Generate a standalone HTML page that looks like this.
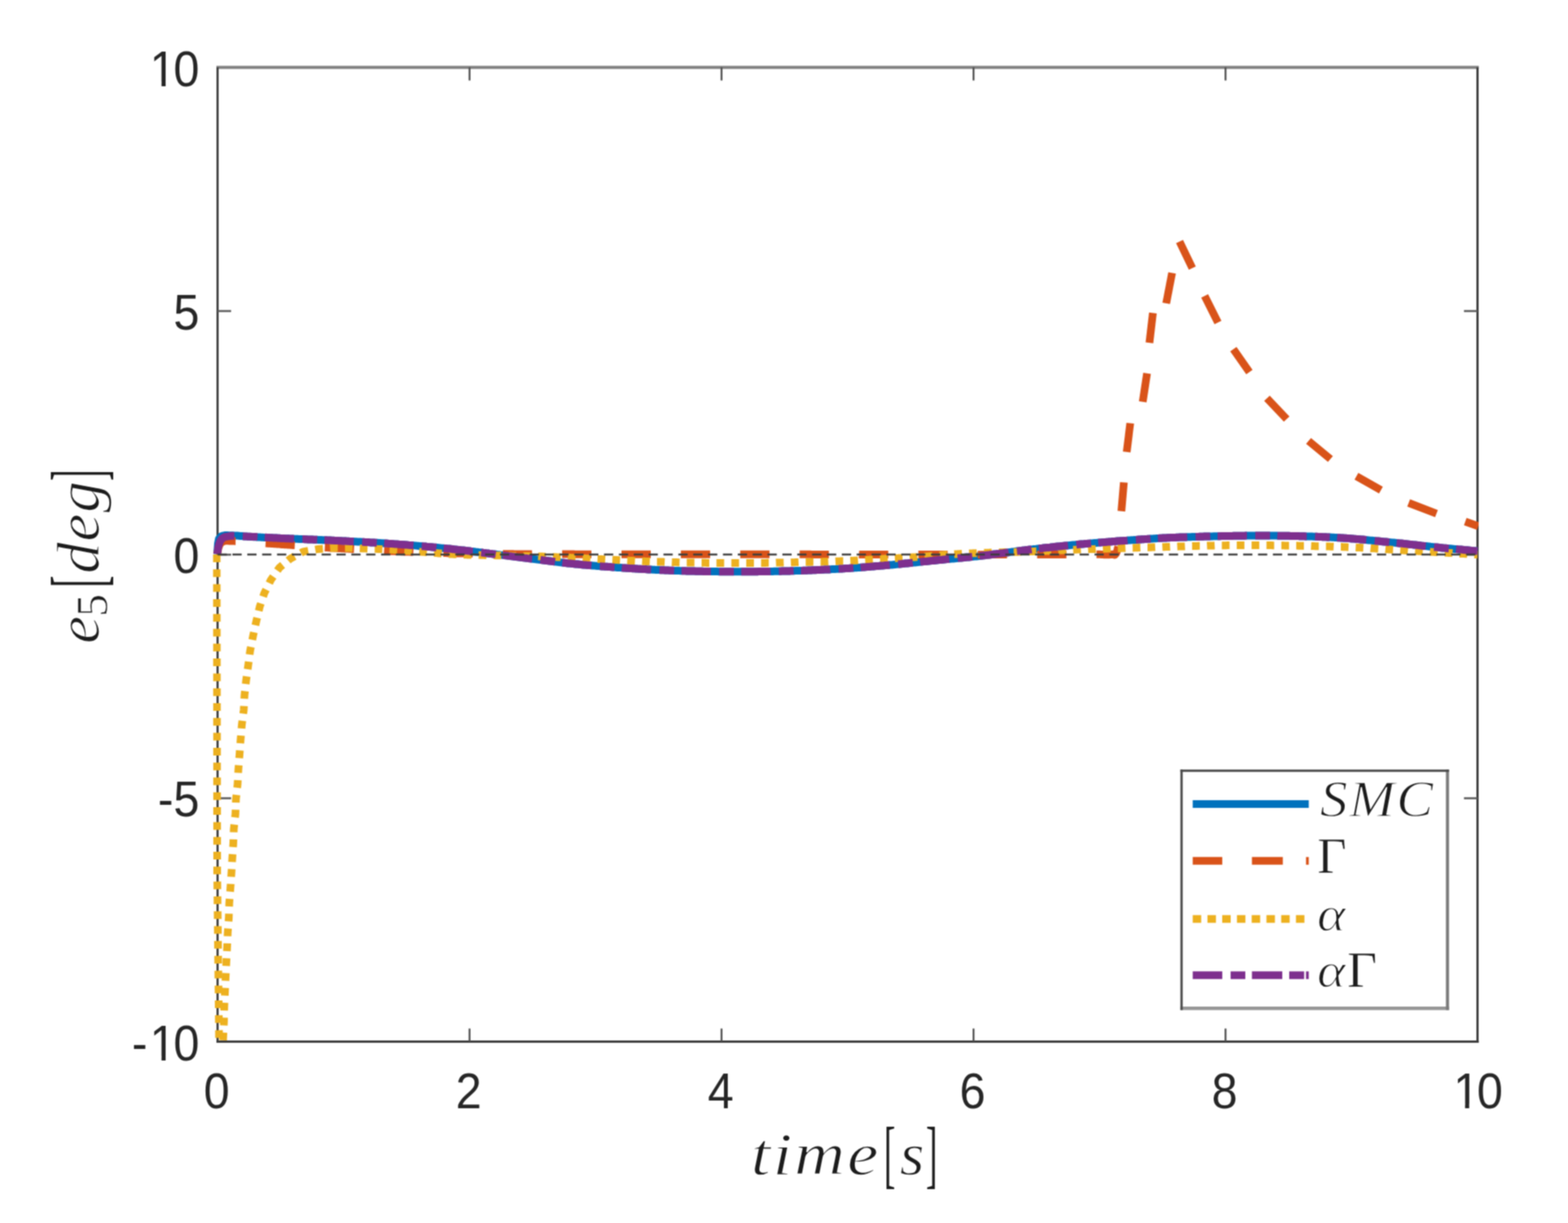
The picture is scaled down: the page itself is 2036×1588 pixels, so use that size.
<!DOCTYPE html>
<html lang="en"><head><meta charset="utf-8"><title>e5 tracking error</title>
<style>html,body{margin:0;padding:0;background:#fff}body{width:2036px;height:1588px;overflow:hidden}svg{display:block}.tk{font-family:"Liberation Sans",Arial,Helvetica,sans-serif;font-size:60.5px;fill:#262626}.mi{font-family:"Liberation Serif","Times New Roman",serif;font-style:italic;fill:#1a1a1a}.mr{font-family:"Liberation Serif","Times New Roman",serif;font-style:normal;fill:#1a1a1a}</style></head><body>
<svg width="2036" height="1588" viewBox="0 0 2036 1588" role="img" aria-label="Tracking error e5 in degrees versus time in seconds for SMC, Gamma, alpha and alpha-Gamma controllers">
<rect width="2036" height="1588" fill="#fff"/>
<defs><filter id="soft" x="0" y="0" width="100%" height="100%" filterUnits="userSpaceOnUse" color-interpolation-filters="sRGB"><feConvolveMatrix order="3" kernelMatrix="1 2 1 2 4 2 1 2 1" divisor="16" edgeMode="duplicate" preserveAlpha="true"/></filter></defs>
<g filter="url(#soft)">
<rect width="2036" height="1588" fill="#fff"/>
<defs><clipPath id="ax"><rect x="276.5" y="87.5" width="1643.5" height="1264.0"/></clipPath></defs>
<g fill="none" stroke-linecap="butt">
<line x1="281.0" y1="87.5" x2="1920.2" y2="87.5" stroke="#808080" stroke-width="4.2"/>
<line x1="281.0" y1="1352.5" x2="1920.2" y2="1352.5" stroke="#3c3c3c" stroke-width="3"/>
<line x1="282.5" y1="87.5" x2="282.5" y2="1352.5" stroke="#3c3c3c" stroke-width="2.8"/>
<line x1="1918.5" y1="87.5" x2="1918.5" y2="1352.5" stroke="#3c3c3c" stroke-width="2.9"/>
<line x1="609.7" y1="87.5" x2="609.7" y2="104.5" stroke="#4d4d4d" stroke-width="2.4"/>
<line x1="609.7" y1="1352.5" x2="609.7" y2="1335.5" stroke="#4d4d4d" stroke-width="2.4"/>
<line x1="936.9" y1="87.5" x2="936.9" y2="104.5" stroke="#4d4d4d" stroke-width="2.4"/>
<line x1="936.9" y1="1352.5" x2="936.9" y2="1335.5" stroke="#4d4d4d" stroke-width="2.4"/>
<line x1="1264.1" y1="87.5" x2="1264.1" y2="104.5" stroke="#4d4d4d" stroke-width="2.4"/>
<line x1="1264.1" y1="1352.5" x2="1264.1" y2="1335.5" stroke="#4d4d4d" stroke-width="2.4"/>
<line x1="1591.3" y1="87.5" x2="1591.3" y2="104.5" stroke="#4d4d4d" stroke-width="2.4"/>
<line x1="1591.3" y1="1352.5" x2="1591.3" y2="1335.5" stroke="#4d4d4d" stroke-width="2.4"/>
<line x1="282.5" y1="403.9" x2="300.1" y2="403.9" stroke="#5c5c5c" stroke-width="2.6"/>
<line x1="1918.5" y1="403.9" x2="1900.9" y2="403.9" stroke="#5c5c5c" stroke-width="2.6"/>
<line x1="282.5" y1="720.2" x2="300.1" y2="720.2" stroke="#5c5c5c" stroke-width="2.6"/>
<line x1="1918.5" y1="720.2" x2="1900.9" y2="720.2" stroke="#5c5c5c" stroke-width="2.6"/>
<line x1="282.5" y1="1036.5" x2="300.1" y2="1036.5" stroke="#5c5c5c" stroke-width="2.6"/>
<line x1="1918.5" y1="1036.5" x2="1900.9" y2="1036.5" stroke="#5c5c5c" stroke-width="2.6"/>
</g>
<text class="tk" transform="translate(194.51,111.5) scale(1,1.065)"><tspan letter-spacing="-3">1</tspan>0</text><rect x="197.61" y="106.49" width="12.11" height="6.51" fill="#fff"/><rect x="215.07" y="106.49" width="11.63" height="6.51" fill="#fff"/>
<text class="tk" transform="translate(225.15,427.8) scale(1,1.065)">5</text>
<text class="tk" transform="translate(225.15,744.0) scale(1,1.065)">0</text>
<text class="tk" transform="translate(205.01,1060.2) scale(1,1.065)">-5</text>
<text class="tk" transform="translate(171.36,1376.5) scale(1,1.065)"><tspan letter-spacing="3">-</tspan><tspan letter-spacing="-3">1</tspan>0</text><rect x="197.61" y="1371.49" width="12.11" height="6.51" fill="#fff"/><rect x="215.07" y="1371.49" width="11.63" height="6.51" fill="#fff"/>
<text class="tk" transform="translate(264.48,1438.6) scale(1,1.065)">0</text>
<text class="tk" transform="translate(591.68,1438.6) scale(1,1.065)">2</text>
<text class="tk" transform="translate(918.88,1438.6) scale(1,1.065)">4</text>
<text class="tk" transform="translate(1246.08,1438.6) scale(1,1.065)">6</text>
<text class="tk" transform="translate(1573.28,1438.6) scale(1,1.065)">8</text>
<text class="tk" transform="translate(1887.15,1438.6) scale(1,1.065)"><tspan letter-spacing="-3">1</tspan>0</text><rect x="1890.26" y="1433.59" width="12.11" height="6.51" fill="#fff"/><rect x="1907.71" y="1433.59" width="11.63" height="6.51" fill="#fff"/>
<g fill="none" stroke-width="10.0" stroke-linecap="butt" stroke-linejoin="round" clip-path="url(#ax)">
<path stroke="#0072BD" d="M282.0,719.5 L283.0,706.0 L284.2,699.6 L285.5,698.5 L287.0,696.4 L288.5,695.8 L290.0,695.5 L292.0,695.0 L294.0,694.9 L296.0,695.1 L298.0,695.2 L300.0,695.2 L302.0,695.3 L304.0,695.4 L306.0,695.5 L308.0,695.6 L310.0,695.8 L312.0,696.0 L314.0,696.1 L316.0,696.3 L318.0,696.5 L320.0,696.6 L321.9,696.7 L323.9,696.8 L325.8,696.9 L327.8,697.0 L329.7,697.2 L331.7,697.3 L333.6,697.4 L335.6,697.5 L337.5,697.6 L339.5,697.7 L341.4,697.8 L343.3,697.9 L345.3,698.0 L347.2,698.0 L349.2,698.1 L351.1,698.2 L353.1,698.3 L355.0,698.4 L357.0,698.5 L358.9,698.6 L360.9,698.7 L362.8,698.8 L364.8,698.9 L366.7,699.0 L368.7,699.1 L370.6,699.2 L372.6,699.2 L374.5,699.3 L376.5,699.4 L378.4,699.5 L380.4,699.6 L382.3,699.7 L384.3,699.7 L386.2,699.8 L388.2,699.9 L390.1,700.0 L392.1,700.1 L394.0,700.1 L396.0,700.2 L397.9,700.3 L399.9,700.4 L401.8,700.5 L403.8,700.5 L405.7,700.6 L407.7,700.7 L409.6,700.8 L411.6,700.8 L413.5,700.9 L415.5,701.0 L417.4,701.1 L419.4,701.2 L421.3,701.3 L423.3,701.3 L425.2,701.4 L427.2,701.5 L429.1,701.6 L431.1,701.7 L433.0,701.8 L435.0,701.9 L437.0,702.0 L438.9,702.1 L440.9,702.2 L442.8,702.3 L444.8,702.4 L446.7,702.5 L448.7,702.6 L450.6,702.7 L452.6,702.8 L454.5,702.9 L456.5,703.0 L458.4,703.1 L460.4,703.2 L462.3,703.3 L464.3,703.4 L466.2,703.5 L468.2,703.6 L470.1,703.7 L472.1,703.8 L474.0,703.9 L476.0,704.0 L477.9,704.1 L479.9,704.3 L481.8,704.4 L483.8,704.5 L485.7,704.6 L487.7,704.7 L489.6,704.8 L491.6,705.0 L493.5,705.1 L495.5,705.2 L497.4,705.3 L499.4,705.5 L501.3,705.6 L503.3,705.7 L505.2,705.9 L507.2,706.0 L509.2,706.1 L511.1,706.3 L513.1,706.4 L515.0,706.6 L517.0,706.7 L518.9,706.9 L520.9,707.0 L522.8,707.2 L524.8,707.3 L526.7,707.5 L528.7,707.6 L530.6,707.8 L532.6,707.9 L534.5,708.1 L536.5,708.2 L538.4,708.4 L540.4,708.6 L542.3,708.7 L544.3,708.9 L546.2,709.1 L548.2,709.2 L550.1,709.4 L552.1,709.6 L554.0,709.8 L556.0,709.9 L557.9,710.1 L559.9,710.3 L561.8,710.5 L563.8,710.7 L565.7,710.8 L567.7,711.0 L569.6,711.2 L571.6,711.4 L573.5,711.6 L575.5,711.8 L577.4,712.0 L579.4,712.2 L581.4,712.4 L583.4,712.6 L585.4,712.8 L587.4,713.0 L589.4,713.3 L591.4,713.5 L593.4,713.7 L595.4,713.9 L597.4,714.1 L599.4,714.4 L601.4,714.6 L603.4,714.8 L605.4,715.1 L607.4,715.3 L609.4,715.5 L611.3,715.8 L613.3,716.0 L615.3,716.2 L617.3,716.5 L619.3,716.7 L621.3,717.0 L623.3,717.2 L625.3,717.4 L627.3,717.7 L629.3,717.9 L631.3,718.2 L633.3,718.4 L635.3,718.7 L637.3,718.9 L639.3,719.2 L641.3,719.4 L643.2,719.6 L645.2,719.9 L647.1,720.1 L649.1,720.4 L651.0,720.6 L653.0,720.9 L654.9,721.1 L656.9,721.4 L658.8,721.6 L660.8,721.9 L662.7,722.1 L664.7,722.4 L666.6,722.6 L668.6,722.9 L670.5,723.1 L672.5,723.4 L674.4,723.6 L676.4,723.9 L678.3,724.1 L680.3,724.4 L682.2,724.6 L684.2,724.9 L686.1,725.1 L688.1,725.4 L690.0,725.6 L692.0,725.8 L694.0,726.1 L696.0,726.3 L698.0,726.6 L700.0,726.8 L702.0,727.1 L704.0,727.3 L706.0,727.6 L708.0,727.8 L710.0,728.1 L712.0,728.3 L714.0,728.6 L716.0,728.8 L717.9,729.1 L719.9,729.3 L721.9,729.6 L723.9,729.8 L725.9,730.0 L727.9,730.3 L729.9,730.5 L731.9,730.7 L733.9,730.9 L735.9,731.2 L737.9,731.4 L739.9,731.6 L741.9,731.8 L743.9,732.0 L745.9,732.2 L747.9,732.4 L749.9,732.6 L751.9,732.8 L753.9,733.0 L755.9,733.2 L757.9,733.4 L759.9,733.5 L761.9,733.7 L763.9,733.9 L765.9,734.1 L767.9,734.2 L769.9,734.4 L771.9,734.6 L773.8,734.7 L775.8,734.9 L777.8,735.1 L779.8,735.2 L781.8,735.4 L783.8,735.5 L785.8,735.7 L787.8,735.8 L789.8,736.0 L791.8,736.1 L793.8,736.3 L795.8,736.4 L797.8,736.6 L799.8,736.7 L801.8,736.9 L803.8,737.0 L805.8,737.1 L807.8,737.3 L809.8,737.4 L811.8,737.5 L813.8,737.7 L815.8,737.8 L817.8,737.9 L819.7,738.1 L821.7,738.2 L823.7,738.3 L825.7,738.4 L827.7,738.6 L829.7,738.7 L831.7,738.8 L833.7,738.9 L835.7,739.0 L837.7,739.1 L839.7,739.3 L841.7,739.4 L843.7,739.5 L845.7,739.6 L847.7,739.7 L849.7,739.8 L851.6,739.9 L853.6,740.0 L855.6,740.1 L857.6,740.2 L859.6,740.2 L861.6,740.3 L863.6,740.4 L865.6,740.5 L867.6,740.6 L869.6,740.7 L871.6,740.7 L873.6,740.8 L875.6,740.9 L877.6,741.0 L879.6,741.0 L881.6,741.1 L883.6,741.2 L885.6,741.2 L887.6,741.3 L889.6,741.3 L891.6,741.4 L893.6,741.4 L895.6,741.5 L897.5,741.5 L899.5,741.6 L901.5,741.6 L903.5,741.7 L905.5,741.7 L907.5,741.8 L909.5,741.8 L911.5,741.8 L913.5,741.9 L915.5,741.9 L917.5,742.0 L919.5,742.0 L921.5,742.0 L923.5,742.0 L925.5,742.1 L927.5,742.1 L929.5,742.1 L931.5,742.1 L933.5,742.2 L935.5,742.2 L937.5,742.2 L939.5,742.2 L941.5,742.2 L943.5,742.3 L945.5,742.3 L947.5,742.3 L949.5,742.3 L951.5,742.3 L953.5,742.3 L955.5,742.3 L957.5,742.3 L959.4,742.3 L961.4,742.3 L963.4,742.3 L965.4,742.3 L967.4,742.3 L969.4,742.3 L971.4,742.3 L973.4,742.3 L975.4,742.2 L977.4,742.2 L979.4,742.2 L981.4,742.2 L983.4,742.2 L985.4,742.1 L987.4,742.1 L989.4,742.1 L991.4,742.1 L993.4,742.0 L995.4,742.0 L997.4,742.0 L999.4,742.0 L1001.4,741.9 L1003.4,741.9 L1005.4,741.8 L1007.4,741.8 L1009.4,741.8 L1011.4,741.7 L1013.4,741.7 L1015.4,741.6 L1017.4,741.6 L1019.4,741.5 L1021.3,741.5 L1023.3,741.4 L1025.3,741.4 L1027.3,741.3 L1029.3,741.3 L1031.3,741.2 L1033.3,741.1 L1035.3,741.1 L1037.3,741.0 L1039.3,740.9 L1041.3,740.9 L1043.3,740.8 L1045.3,740.7 L1047.3,740.7 L1049.3,740.6 L1051.3,740.5 L1053.2,740.4 L1055.2,740.3 L1057.1,740.3 L1059.1,740.2 L1061.0,740.1 L1063.0,740.0 L1064.9,739.9 L1066.9,739.8 L1068.8,739.7 L1070.8,739.6 L1072.7,739.5 L1074.7,739.4 L1076.6,739.4 L1078.6,739.2 L1080.5,739.1 L1082.5,739.0 L1084.4,738.9 L1086.4,738.8 L1088.3,738.7 L1090.3,738.6 L1092.2,738.5 L1094.2,738.4 L1096.1,738.2 L1098.1,738.1 L1100.0,738.0 L1102.0,737.9 L1104.0,737.7 L1106.0,737.6 L1108.0,737.5 L1110.0,737.3 L1112.0,737.2 L1114.0,737.0 L1116.0,736.9 L1118.0,736.7 L1120.0,736.6 L1122.0,736.4 L1124.0,736.3 L1126.0,736.1 L1127.9,735.9 L1129.9,735.8 L1131.9,735.6 L1133.9,735.5 L1135.9,735.3 L1137.9,735.1 L1139.9,734.9 L1141.9,734.8 L1143.9,734.6 L1145.9,734.4 L1147.9,734.3 L1149.9,734.1 L1151.9,733.9 L1153.9,733.7 L1155.9,733.5 L1157.9,733.4 L1159.9,733.2 L1161.9,733.0 L1163.9,732.8 L1165.9,732.6 L1167.9,732.4 L1169.9,732.2 L1171.9,732.0 L1173.9,731.8 L1175.9,731.6 L1177.9,731.4 L1179.9,731.2 L1181.9,731.0 L1183.8,730.8 L1185.8,730.6 L1187.8,730.4 L1189.8,730.2 L1191.8,730.0 L1193.8,729.8 L1195.8,729.5 L1197.8,729.3 L1199.8,729.1 L1201.8,728.9 L1203.8,728.7 L1205.8,728.5 L1207.8,728.3 L1209.8,728.1 L1211.8,727.9 L1213.8,727.7 L1215.8,727.5 L1217.8,727.3 L1219.8,727.1 L1221.8,726.9 L1223.8,726.7 L1225.8,726.5 L1227.8,726.3 L1229.7,726.1 L1231.7,726.0 L1233.7,725.8 L1235.7,725.6 L1237.7,725.4 L1239.7,725.2 L1241.7,725.0 L1243.7,724.8 L1245.7,724.6 L1247.7,724.4 L1249.7,724.2 L1251.7,724.0 L1253.7,723.8 L1255.7,723.6 L1257.7,723.4 L1259.7,723.2 L1261.6,723.0 L1263.6,722.8 L1265.6,722.6 L1267.6,722.4 L1269.6,722.2 L1271.6,721.9 L1273.6,721.7 L1275.6,721.5 L1277.6,721.3 L1279.6,721.0 L1281.6,720.8 L1283.6,720.6 L1285.6,720.3 L1287.6,720.1 L1289.6,719.8 L1291.6,719.5 L1293.6,719.3 L1295.6,719.0 L1297.6,718.8 L1299.6,718.5 L1301.6,718.2 L1303.6,718.0 L1305.6,717.7 L1307.5,717.4 L1309.5,717.2 L1311.5,716.9 L1313.5,716.6 L1315.5,716.4 L1317.5,716.1 L1319.5,715.8 L1321.5,715.6 L1323.5,715.3 L1325.5,715.1 L1327.5,714.8 L1329.5,714.6 L1331.5,714.3 L1333.5,714.1 L1335.5,713.8 L1337.5,713.6 L1339.5,713.4 L1341.5,713.1 L1343.5,712.9 L1345.5,712.7 L1347.5,712.4 L1349.5,712.2 L1351.5,712.0 L1353.5,711.8 L1355.5,711.5 L1357.5,711.3 L1359.5,711.1 L1361.5,710.9 L1363.5,710.7 L1365.5,710.4 L1367.5,710.2 L1369.4,710.0 L1371.4,709.8 L1373.4,709.6 L1375.4,709.4 L1377.4,709.2 L1379.4,709.0 L1381.4,708.8 L1383.4,708.6 L1385.4,708.4 L1387.4,708.2 L1389.4,708.0 L1391.4,707.8 L1393.4,707.6 L1395.4,707.4 L1397.4,707.2 L1399.4,707.0 L1401.4,706.8 L1403.4,706.6 L1405.4,706.4 L1407.4,706.3 L1409.4,706.1 L1411.4,705.9 L1413.4,705.7 L1415.4,705.6 L1417.4,705.4 L1419.4,705.2 L1421.4,705.0 L1423.4,704.9 L1425.4,704.7 L1427.4,704.5 L1429.4,704.4 L1431.3,704.2 L1433.3,704.1 L1435.3,703.9 L1437.3,703.7 L1439.3,703.6 L1441.3,703.4 L1443.3,703.3 L1445.3,703.1 L1447.3,703.0 L1449.3,702.8 L1451.3,702.6 L1453.3,702.5 L1455.3,702.3 L1457.3,702.2 L1459.3,702.0 L1461.3,701.9 L1463.2,701.8 L1465.2,701.6 L1467.1,701.5 L1469.1,701.3 L1471.0,701.2 L1473.0,701.0 L1474.9,700.9 L1476.9,700.7 L1478.8,700.6 L1480.8,700.5 L1482.7,700.3 L1484.7,700.2 L1486.6,700.1 L1488.6,699.9 L1490.5,699.8 L1492.5,699.7 L1494.4,699.5 L1496.4,699.4 L1498.3,699.3 L1500.3,699.2 L1502.2,699.0 L1504.2,698.9 L1506.1,698.8 L1508.1,698.7 L1510.0,698.6 L1512.0,698.5 L1514.0,698.4 L1516.0,698.3 L1518.0,698.2 L1520.0,698.1 L1522.0,698.0 L1524.0,697.9 L1526.0,697.9 L1528.0,697.8 L1530.0,697.7 L1532.0,697.6 L1534.0,697.6 L1536.0,697.5 L1537.9,697.4 L1539.9,697.4 L1541.9,697.3 L1543.9,697.2 L1545.9,697.2 L1547.9,697.1 L1549.9,697.0 L1551.9,697.0 L1553.9,696.9 L1555.9,696.9 L1557.9,696.8 L1559.9,696.8 L1561.9,696.7 L1563.9,696.6 L1565.9,696.6 L1567.9,696.5 L1569.9,696.5 L1571.9,696.4 L1573.9,696.4 L1575.9,696.3 L1577.9,696.3 L1579.9,696.2 L1581.9,696.2 L1583.9,696.2 L1585.9,696.1 L1587.9,696.1 L1589.9,696.0 L1591.9,696.0 L1593.8,696.0 L1595.8,695.9 L1597.8,695.9 L1599.8,695.9 L1601.8,695.8 L1603.8,695.8 L1605.8,695.8 L1607.8,695.7 L1609.8,695.7 L1611.8,695.7 L1613.8,695.7 L1615.8,695.7 L1617.8,695.6 L1619.8,695.6 L1621.8,695.6 L1623.8,695.6 L1625.8,695.6 L1627.8,695.6 L1629.8,695.6 L1631.8,695.6 L1633.8,695.6 L1635.8,695.6 L1637.8,695.6 L1639.7,695.6 L1641.7,695.6 L1643.7,695.6 L1645.7,695.6 L1647.7,695.6 L1649.7,695.6 L1651.7,695.6 L1653.7,695.6 L1655.7,695.6 L1657.7,695.6 L1659.7,695.7 L1661.7,695.7 L1663.7,695.7 L1665.7,695.7 L1667.7,695.7 L1669.7,695.8 L1671.6,695.8 L1673.6,695.8 L1675.6,695.9 L1677.6,695.9 L1679.6,696.0 L1681.6,696.0 L1683.6,696.0 L1685.6,696.1 L1687.6,696.2 L1689.6,696.2 L1691.6,696.3 L1693.6,696.3 L1695.6,696.4 L1697.6,696.4 L1699.6,696.5 L1701.6,696.6 L1703.6,696.6 L1705.6,696.7 L1707.6,696.8 L1709.6,696.8 L1711.6,696.9 L1713.6,697.0 L1715.6,697.1 L1717.5,697.2 L1719.5,697.2 L1721.5,697.3 L1723.5,697.4 L1725.5,697.5 L1727.5,697.6 L1729.5,697.7 L1731.5,697.8 L1733.5,697.9 L1735.5,698.0 L1737.5,698.2 L1739.5,698.3 L1741.5,698.4 L1743.5,698.5 L1745.5,698.7 L1747.5,698.8 L1749.5,698.9 L1751.5,699.1 L1753.5,699.2 L1755.5,699.4 L1757.5,699.6 L1759.5,699.7 L1761.5,699.9 L1763.5,700.1 L1765.5,700.2 L1767.5,700.4 L1769.5,700.6 L1771.5,700.8 L1773.5,701.0 L1775.5,701.2 L1777.5,701.4 L1779.4,701.6 L1781.4,701.8 L1783.4,702.0 L1785.4,702.2 L1787.4,702.4 L1789.4,702.6 L1791.4,702.8 L1793.4,703.0 L1795.4,703.2 L1797.4,703.4 L1799.4,703.6 L1801.4,703.8 L1803.4,704.0 L1805.4,704.2 L1807.4,704.4 L1809.4,704.6 L1811.4,704.8 L1813.4,705.0 L1815.4,705.2 L1817.4,705.4 L1819.4,705.6 L1821.4,705.8 L1823.4,706.1 L1825.4,706.3 L1827.4,706.5 L1829.4,706.7 L1831.4,706.9 L1833.4,707.1 L1835.4,707.4 L1837.4,707.6 L1839.4,707.8 L1841.3,708.0 L1843.3,708.2 L1845.3,708.5 L1847.3,708.7 L1849.3,708.9 L1851.3,709.1 L1853.3,709.3 L1855.3,709.5 L1857.3,709.8 L1859.3,710.0 L1861.3,710.2 L1863.3,710.4 L1865.3,710.6 L1867.3,710.8 L1869.3,711.0 L1871.3,711.2 L1873.3,711.4 L1875.2,711.6 L1877.2,711.8 L1879.2,712.0 L1881.1,712.2 L1883.1,712.3 L1885.1,712.5 L1887.0,712.7 L1889.0,712.9 L1891.0,713.1 L1892.9,713.3 L1894.9,713.4 L1896.9,713.6 L1898.8,713.8 L1900.8,714.0 L1902.8,714.2 L1904.7,714.3 L1906.7,714.5 L1908.7,714.7 L1910.6,714.9 L1912.6,715.1 L1914.6,715.2 L1916.5,715.4 L1918.5,715.6"/>
<path stroke="#D95319" stroke-dasharray="38 39.1" stroke-dashoffset="2.8" d="M282.0,719.5 L283.5,712.0 L285.0,707.8 L286.5,705.5 L288.0,703.9 L289.5,703.3 L291.0,702.8 L292.8,702.3 L294.6,702.2 L296.4,702.3 L298.2,702.5 L300.0,702.6 L301.9,702.6 L303.9,702.6 L305.8,702.7 L307.7,702.7 L309.7,702.8 L311.6,702.9 L313.5,703.0 L315.5,703.1 L317.4,703.2 L319.3,703.4 L321.3,703.5 L323.2,703.7 L325.2,703.8 L327.1,704.0 L329.0,704.2 L331.0,704.3 L332.9,704.5 L334.8,704.7 L336.8,704.8 L338.7,705.0 L340.6,705.1 L342.6,705.3 L344.5,705.4 L346.5,705.5 L348.4,705.7 L350.4,705.8 L352.4,705.9 L354.3,706.1 L356.3,706.2 L358.3,706.3 L360.2,706.5 L362.2,706.6 L364.2,706.7 L366.2,706.9 L368.1,707.0 L370.1,707.2 L372.1,707.3 L374.0,707.4 L376.0,707.6 L378.0,707.7 L379.9,707.9 L381.9,708.0 L383.8,708.1 L385.8,708.3 L387.7,708.4 L389.7,708.6 L391.6,708.7 L393.6,708.9 L395.5,709.0 L397.5,709.2 L399.4,709.3 L401.4,709.5 L403.3,709.6 L405.3,709.8 L407.2,709.9 L409.2,710.1 L411.1,710.2 L413.1,710.3 L415.0,710.5 L417.0,710.6 L418.9,710.7 L420.9,710.9 L422.8,711.0 L424.7,711.1 L426.7,711.2 L428.6,711.4 L430.5,711.5 L432.5,711.6 L434.4,711.7 L436.3,711.8 L438.3,711.9 L440.2,712.0 L442.1,712.1 L444.0,712.2 L446.0,712.3 L447.9,712.4 L449.8,712.5 L451.8,712.6 L453.7,712.7 L455.6,712.8 L457.6,712.9 L459.5,713.0 L461.4,713.1 L463.4,713.2 L465.3,713.3 L467.2,713.4 L469.1,713.6 L471.1,713.7 L473.0,713.8 L474.9,713.9 L476.9,714.0 L478.8,714.1 L480.7,714.2 L482.6,714.4 L484.6,714.5 L486.5,714.6 L488.4,714.7 L490.4,714.8 L492.3,714.9 L494.2,715.0 L496.1,715.1 L498.1,715.2 L500.0,715.3 L501.9,715.4 L503.9,715.5 L505.8,715.6 L507.8,715.7 L509.7,715.7 L511.7,715.8 L513.6,715.9 L515.6,716.0 L517.5,716.1 L519.5,716.1 L521.4,716.2 L523.4,716.3 L525.3,716.4 L527.3,716.4 L529.2,716.5 L531.2,716.6 L533.1,716.7 L535.1,716.7 L537.0,716.8 L539.0,716.9 L541.0,716.9 L543.0,717.0 L545.0,717.1 L547.0,717.2 L549.0,717.2 L551.0,717.3 L553.0,717.4 L555.0,717.4 L557.0,717.5 L559.0,717.5 L561.0,717.6 L563.0,717.7 L565.0,717.7 L567.0,717.8 L569.0,717.8 L571.0,717.9 L573.0,717.9 L575.0,718.0 L577.0,718.1 L579.0,718.1 L581.0,718.2 L583.0,718.2 L585.0,718.2 L587.0,718.3 L589.0,718.3 L591.0,718.4 L593.0,718.4 L595.0,718.5 L597.0,718.5 L599.0,718.5 L601.0,718.6 L603.0,718.6 L605.0,718.7 L607.0,718.7 L609.0,718.7 L611.0,718.8 L613.0,718.8 L615.0,718.8 L616.9,718.9 L618.9,718.9 L620.8,718.9 L622.8,718.9 L624.8,719.0 L626.7,719.0 L628.7,719.0 L630.6,719.0 L632.6,719.1 L634.5,719.1 L636.5,719.1 L638.5,719.1 L640.4,719.1 L642.4,719.2 L644.3,719.2 L646.3,719.2 L648.2,719.2 L650.2,719.2 L652.2,719.2 L654.1,719.3 L656.1,719.3 L658.0,719.3 L660.0,719.3 L662.0,719.3 L663.9,719.3 L665.9,719.3 L667.9,719.4 L669.9,719.4 L671.8,719.4 L673.8,719.4 L675.8,719.4 L677.8,719.4 L679.7,719.4 L681.7,719.4 L683.7,719.4 L685.6,719.5 L687.6,719.5 L689.6,719.5 L691.6,719.5 L693.5,719.5 L695.5,719.5 L697.5,719.5 L699.4,719.5 L701.4,719.5 L703.4,719.5 L705.4,719.5 L707.3,719.5 L709.3,719.5 L711.3,719.5 L713.2,719.5 L715.2,719.6 L717.2,719.6 L719.2,719.6 L721.1,719.6 L723.1,719.6 L725.1,719.6 L727.1,719.6 L729.0,719.6 L731.0,719.6 L733.0,719.6 L735.0,719.6 L737.0,719.6 L739.0,719.6 L741.0,719.6 L743.0,719.6 L744.9,719.6 L746.9,719.7 L748.9,719.7 L750.9,719.7 L752.9,719.7 L754.9,719.7 L756.9,719.7 L758.9,719.7 L760.9,719.7 L762.9,719.7 L764.9,719.7 L766.9,719.7 L768.9,719.7 L770.9,719.7 L772.8,719.7 L774.8,719.7 L776.8,719.7 L778.8,719.7 L780.8,719.7 L782.8,719.7 L784.8,719.7 L786.8,719.7 L788.8,719.7 L790.8,719.7 L792.8,719.8 L794.8,719.8 L796.8,719.8 L798.7,719.8 L800.7,719.8 L802.7,719.8 L804.7,719.8 L806.7,719.8 L808.7,719.8 L810.7,719.8 L812.7,719.8 L814.7,719.8 L816.7,719.8 L818.7,719.8 L820.7,719.8 L822.7,719.8 L824.7,719.8 L826.6,719.8 L828.6,719.8 L830.6,719.8 L832.6,719.8 L834.6,719.8 L836.6,719.8 L838.6,719.8 L840.6,719.8 L842.6,719.8 L844.6,719.8 L846.6,719.8 L848.6,719.8 L850.6,719.8 L852.5,719.8 L854.5,719.8 L856.5,719.8 L858.5,719.8 L860.5,719.8 L862.5,719.8 L864.5,719.8 L866.5,719.8 L868.5,719.8 L870.5,719.8 L872.5,719.8 L874.5,719.8 L876.5,719.8 L878.5,719.8 L880.4,719.8 L882.4,719.8 L884.4,719.8 L886.4,719.8 L888.4,719.8 L890.4,719.8 L892.4,719.8 L894.4,719.8 L896.4,719.8 L898.4,719.8 L900.4,719.8 L902.4,719.8 L904.4,719.8 L906.3,719.8 L908.3,719.8 L910.3,719.8 L912.3,719.8 L914.3,719.8 L916.3,719.8 L918.3,719.8 L920.3,719.8 L922.3,719.8 L924.3,719.8 L926.3,719.8 L928.3,719.8 L930.3,719.8 L932.3,719.8 L934.2,719.8 L936.2,719.8 L938.2,719.8 L940.2,719.8 L942.2,719.8 L944.2,719.8 L946.2,719.8 L948.2,719.8 L950.2,719.8 L952.2,719.8 L954.2,719.8 L956.2,719.8 L958.2,719.8 L960.1,719.8 L962.1,719.8 L964.1,719.8 L966.1,719.8 L968.1,719.8 L970.1,719.8 L972.1,719.8 L974.1,719.8 L976.1,719.8 L978.1,719.8 L980.1,719.8 L982.1,719.8 L984.1,719.8 L986.1,719.8 L988.0,719.8 L990.0,719.8 L992.0,719.8 L994.0,719.8 L996.0,719.8 L998.0,719.8 L1000.0,719.8 L1002.0,719.8 L1004.0,719.8 L1006.0,719.8 L1008.0,719.8 L1010.0,719.8 L1012.0,719.8 L1014.0,719.8 L1016.0,719.8 L1018.0,719.8 L1020.0,719.8 L1022.0,719.8 L1024.0,719.8 L1026.0,719.8 L1028.0,719.8 L1030.0,719.8 L1032.0,719.8 L1034.0,719.8 L1036.0,719.8 L1038.0,719.8 L1040.0,719.8 L1042.0,719.8 L1044.0,719.8 L1046.0,719.8 L1048.0,719.8 L1050.0,719.8 L1052.0,719.8 L1054.0,719.9 L1056.0,719.9 L1058.0,719.9 L1060.0,719.9 L1062.0,719.9 L1064.0,719.9 L1066.0,719.9 L1068.0,719.9 L1070.0,719.9 L1072.0,719.9 L1074.0,719.9 L1076.0,719.9 L1078.0,719.9 L1080.0,719.9 L1082.0,719.9 L1084.0,719.9 L1086.0,719.9 L1088.0,719.9 L1090.0,719.9 L1092.0,719.9 L1094.0,719.9 L1096.0,719.9 L1098.0,719.9 L1100.0,719.9 L1102.0,719.9 L1104.0,719.9 L1106.0,719.9 L1108.0,719.9 L1110.0,719.9 L1112.0,719.9 L1114.0,719.9 L1116.0,720.0 L1118.0,720.0 L1120.0,720.0 L1122.0,720.0 L1124.0,720.0 L1126.0,720.0 L1128.0,720.0 L1130.0,720.0 L1132.0,720.0 L1134.0,720.0 L1136.0,720.0 L1138.0,720.0 L1140.0,720.0 L1142.0,720.0 L1144.0,720.0 L1146.0,720.0 L1148.0,720.0 L1150.0,720.0 L1152.0,720.0 L1154.0,720.0 L1156.0,720.0 L1158.0,720.0 L1160.0,720.0 L1162.0,720.0 L1164.0,720.0 L1166.0,720.0 L1168.0,720.0 L1170.0,720.0 L1172.0,720.0 L1174.0,720.1 L1176.0,720.1 L1178.0,720.1 L1180.0,720.1 L1182.0,720.1 L1184.0,720.1 L1186.0,720.1 L1188.0,720.1 L1190.0,720.1 L1192.0,720.1 L1194.0,720.1 L1196.0,720.1 L1198.0,720.1 L1200.0,720.1 L1202.0,720.1 L1204.0,720.1 L1206.0,720.1 L1208.0,720.1 L1210.0,720.1 L1212.0,720.1 L1214.0,720.1 L1216.0,720.1 L1218.0,720.1 L1220.0,720.1 L1222.0,720.1 L1224.0,720.1 L1226.0,720.1 L1228.0,720.1 L1230.0,720.1 L1232.0,720.1 L1234.0,720.1 L1236.0,720.1 L1238.0,720.1 L1240.0,720.1 L1242.0,720.1 L1244.0,720.1 L1246.0,720.1 L1248.0,720.1 L1250.0,720.1 L1252.0,720.1 L1254.0,720.1 L1256.0,720.1 L1258.0,720.1 L1260.0,720.1 L1262.0,720.1 L1264.0,720.1 L1266.0,720.1 L1268.0,720.2 L1270.0,720.2 L1272.0,720.2 L1274.0,720.2 L1276.0,720.2 L1278.0,720.2 L1280.0,720.2 L1282.0,720.2 L1284.0,720.2 L1286.0,720.2 L1288.0,720.1 L1290.0,720.1 L1292.0,720.1 L1294.0,720.1 L1296.0,720.1 L1298.0,720.1 L1300.0,720.1 L1302.0,720.1 L1304.0,720.1 L1306.0,720.1 L1308.0,720.1 L1310.0,720.1 L1312.0,720.1 L1314.0,720.1 L1316.0,720.1 L1318.0,720.1 L1320.0,720.1 L1322.0,720.1 L1324.0,720.1 L1326.0,720.1 L1328.0,720.1 L1330.0,720.1 L1332.0,720.1 L1334.0,720.1 L1336.0,720.1 L1338.0,720.1 L1340.0,720.1 L1342.0,720.1 L1344.0,720.1 L1346.0,720.1 L1348.0,720.1 L1350.0,720.1 L1352.0,720.1 L1354.0,720.1 L1356.0,720.1 L1358.0,720.1 L1360.0,720.1 L1362.0,720.1 L1364.0,720.0 L1366.0,720.0 L1368.0,720.0 L1370.0,720.0 L1372.0,720.0 L1374.0,720.0 L1376.0,720.0 L1378.0,720.0 L1380.0,720.0 L1382.0,720.0 L1384.0,720.0 L1386.0,720.0 L1388.0,720.0 L1390.0,720.0 L1392.0,720.0 L1394.0,719.9 L1396.0,719.9 L1398.0,719.9 L1400.0,719.9 L1402.0,719.9 L1404.0,719.9 L1406.0,719.9 L1408.0,719.9 L1410.0,719.9 L1412.0,719.9 L1414.0,719.9 L1416.0,719.9 L1418.0,719.8 L1420.0,719.8 L1422.0,719.8 L1424.0,719.8 L1426.0,719.8 L1428.0,719.8 L1430.0,719.9 L1432.0,720.0 L1434.0,720.2 L1436.0,720.3 L1438.0,720.3 L1440.0,720.2 L1442.0,720.0 L1444.0,719.7 L1445.8,720.1 L1447.7,720.5 L1449.5,718.2 L1450.8,714.2 L1452.0,709.5"/>
<line stroke="#D95319" x1="1456.1" y1="663.8" x2="1459.3" y2="626.4"/>
<line stroke="#D95319" x1="1463.0" y1="586.9" x2="1467.6" y2="549.5"/>
<line stroke="#D95319" x1="1483.8" y1="521.8" x2="1489.4" y2="484.7"/>
<line stroke="#D95319" x1="1492.5" y1="445.2" x2="1497.0" y2="406.4"/>
<line stroke="#D95319" x1="1514.3" y1="393.9" x2="1521.9" y2="354.4"/>
<line stroke="#D95319" x1="1531.6" y1="313.6" x2="1548.2" y2="348.2"/>
<line stroke="#D95319" x1="1564.2" y1="384.2" x2="1581.5" y2="418.8"/>
<line stroke="#D95319" x1="1601.5" y1="453.3" x2="1622.3" y2="483.1"/>
<line stroke="#D95319" x1="1645.1" y1="517.1" x2="1670.7" y2="544.1"/>
<line stroke="#D95319" x1="1699.1" y1="572.5" x2="1727.5" y2="596.0"/>
<line stroke="#D95319" x1="1761.3" y1="618.4" x2="1793.1" y2="636.4"/>
<line stroke="#D95319" x1="1829.1" y1="653.0" x2="1865.2" y2="666.9"/>
<line stroke="#D95319" x1="1902.6" y1="677.2" x2="1919.5" y2="683.2"/>
<path stroke="#EDB120" stroke-dasharray="10 9.3" d="M281.3,720.0 L282.0,1130.0 L284.6,1362.0"/>
<path stroke="#EDB120" stroke-dasharray="10 9.32" stroke-dashoffset="-0.3" d="M289.6,1351.0 L290.8,1326.7 L291.2,1307.3 L292.1,1287.9 L293.0,1268.5 L293.9,1249.1 L294.9,1229.8 L295.7,1211.0 L297.1,1191.7 L297.7,1172.3 L299.2,1152.9 L300.5,1133.9 L301.6,1114.8 L302.9,1095.6 L303.6,1076.3 L305.7,1056.9 L306.4,1037.5 L308.5,1018.3 L309.5,999.4 L311.0,980.0 L312.4,960.6 L314.0,941.2 L316.5,921.8 L317.5,902.7 L319.6,883.3 L322.3,863.9 L324.8,844.9 L328.6,825.8 L332.7,807.1 L337.3,787.7 L343.1,770.4 L351.7,753.0 L362.8,737.1 L377.1,725.3 L393.7,716.3 L413.1,712.9 L433.2,711.5 L453.3,711.5 L471.3,712.2 L473.2,712.3 L475.2,712.3 L477.1,712.4 L479.1,712.5 L481.0,712.5 L482.9,712.6 L484.9,712.7 L486.8,712.7 L488.8,712.8 L490.7,712.9 L492.6,713.0 L494.4,713.1 L496.3,713.1 L498.1,713.2 L500.0,713.3 L501.9,713.4 L503.7,713.5 L505.6,713.6 L507.4,713.7 L509.3,713.8 L511.3,713.9 L513.2,714.0 L515.2,714.2 L517.1,714.3 L519.1,714.4 L521.1,714.6 L523.0,714.7 L525.0,714.9 L526.9,715.0 L528.9,715.2 L530.9,715.3 L532.8,715.5 L534.8,715.6 L536.7,715.8 L538.7,715.9 L540.7,716.1 L542.6,716.3 L544.6,716.4 L546.5,716.6 L548.5,716.7 L550.5,716.8 L552.4,717.0 L554.4,717.1 L556.3,717.3 L558.3,717.5 L560.2,717.6 L562.2,717.8 L564.1,717.9 L566.1,718.1 L568.0,718.2 L570.0,718.4 L572.0,718.5 L573.9,718.7 L575.9,718.8 L577.8,719.0 L579.8,719.1 L581.7,719.2 L583.7,719.4 L585.6,719.5 L587.6,719.6 L589.5,719.7 L591.5,719.8 L593.4,719.9 L595.4,720.0 L597.3,720.1 L599.3,720.1 L601.2,720.2 L603.2,720.3 L605.1,720.3 L607.1,720.4 L609.0,720.4 L611.0,720.5 L612.9,720.5 L614.9,720.6 L616.8,720.6 L618.7,720.7 L620.7,720.7 L622.6,720.7 L624.6,720.8 L626.5,720.8 L628.5,720.8 L630.4,720.9 L632.4,720.9 L634.3,720.9 L636.3,721.0 L638.2,721.0 L640.2,721.1 L642.1,721.1 L644.1,721.2 L646.0,721.2 L648.0,721.3 L650.0,721.3 L652.0,721.3 L654.0,721.4 L656.0,721.4 L658.0,721.5 L660.0,721.5 L662.0,721.6 L664.0,721.6 L666.0,721.7 L668.0,721.7 L670.0,721.7 L672.0,721.8 L674.0,721.8 L676.0,721.9 L678.0,721.9 L680.0,722.0 L682.0,722.0 L684.0,722.1 L686.0,722.1 L688.0,722.2 L690.0,722.2 L692.0,722.3 L694.0,722.3 L696.0,722.4 L698.0,722.4 L700.0,722.5 L702.0,722.6 L704.0,722.6 L705.9,722.7 L707.9,722.8 L709.9,722.8 L711.9,722.9 L713.8,723.0 L715.8,723.1 L717.8,723.2 L719.8,723.2 L721.7,723.3 L723.7,723.4 L725.7,723.5 L727.7,723.6 L729.6,723.7 L731.6,723.7 L733.6,723.8 L735.6,723.9 L737.5,724.0 L739.5,724.1 L741.5,724.2 L743.5,724.3 L745.5,724.4 L747.4,724.5 L749.4,724.6 L751.4,724.7 L753.4,724.8 L755.3,724.9 L757.3,725.0 L759.3,725.1 L761.3,725.2 L763.2,725.3 L765.2,725.4 L767.2,725.5 L769.2,725.5 L771.1,725.6 L773.1,725.7 L775.1,725.8 L777.1,725.9 L779.0,726.0 L781.0,726.1 L783.0,726.2 L785.0,726.3 L787.0,726.4 L789.0,726.5 L791.0,726.6 L793.0,726.7 L795.0,726.8 L797.0,726.9 L799.0,727.0 L801.0,727.1 L803.0,727.2 L805.0,727.3 L807.0,727.4 L809.0,727.5 L811.0,727.6 L813.0,727.7 L815.0,727.8 L817.0,727.9 L819.0,728.0 L821.0,728.1 L823.0,728.2 L825.0,728.3 L827.0,728.3 L829.0,728.4 L831.0,728.5 L833.0,728.6 L835.0,728.7 L837.0,728.8 L839.0,728.9 L841.0,728.9 L843.0,729.0 L845.0,729.1 L847.0,729.2 L848.9,729.2 L850.9,729.3 L852.9,729.4 L854.8,729.4 L856.8,729.5 L858.8,729.6 L860.7,729.6 L862.7,729.7 L864.6,729.8 L866.6,729.8 L868.6,729.9 L870.5,729.9 L872.5,730.0 L874.5,730.0 L876.4,730.1 L878.4,730.1 L880.4,730.2 L882.3,730.2 L884.3,730.3 L886.2,730.3 L888.2,730.4 L890.2,730.4 L892.1,730.4 L894.1,730.5 L896.1,730.5 L898.0,730.6 L900.0,730.6 L902.0,730.6 L904.0,730.7 L906.0,730.7 L908.0,730.7 L910.0,730.8 L912.0,730.8 L914.0,730.8 L916.0,730.8 L918.0,730.9 L920.0,730.9 L922.0,730.9 L924.0,730.9 L926.0,731.0 L928.0,731.0 L930.0,731.0 L932.0,731.0 L934.0,731.0 L936.0,731.0 L938.0,731.0 L940.0,731.1 L942.0,731.1 L944.0,731.1 L946.0,731.1 L948.0,731.1 L950.0,731.1 L952.0,731.1 L954.0,731.1 L956.0,731.1 L958.0,731.1 L960.0,731.1 L962.0,731.1 L964.0,731.1 L966.0,731.1 L968.0,731.1 L970.0,731.1 L972.0,731.0 L974.0,731.0 L976.0,731.0 L978.0,731.0 L980.0,731.0 L982.0,731.0 L984.0,731.0 L986.0,730.9 L988.0,730.9 L990.0,730.9 L992.0,730.9 L993.9,730.9 L995.9,730.8 L997.9,730.8 L999.8,730.8 L1001.8,730.7 L1003.8,730.7 L1005.7,730.7 L1007.7,730.6 L1009.7,730.6 L1011.6,730.6 L1013.6,730.5 L1015.6,730.5 L1017.5,730.5 L1019.5,730.4 L1021.5,730.4 L1023.5,730.3 L1025.4,730.3 L1027.4,730.2 L1029.4,730.2 L1031.3,730.2 L1033.3,730.1 L1035.3,730.1 L1037.2,730.0 L1039.2,730.0 L1041.2,729.9 L1043.1,729.9 L1045.1,729.8 L1047.1,729.8 L1049.0,729.7 L1051.0,729.7 L1053.0,729.7 L1054.9,729.6 L1056.8,729.6 L1058.8,729.5 L1060.8,729.5 L1062.7,729.4 L1064.7,729.4 L1066.6,729.4 L1068.5,729.3 L1070.5,729.3 L1072.5,729.2 L1074.4,729.2 L1076.3,729.1 L1078.3,729.1 L1080.2,729.0 L1082.2,729.0 L1084.2,728.9 L1086.1,728.8 L1088.0,728.8 L1090.0,728.7 L1092.0,728.6 L1094.0,728.5 L1096.0,728.5 L1098.0,728.4 L1100.0,728.3 L1102.0,728.2 L1104.0,728.1 L1106.0,728.0 L1108.0,727.9 L1110.0,727.8 L1112.0,727.7 L1114.0,727.6 L1116.0,727.4 L1118.0,727.3 L1120.0,727.2 L1122.0,727.1 L1124.0,727.0 L1126.0,726.9 L1128.0,726.7 L1130.0,726.6 L1132.0,726.5 L1134.0,726.4 L1136.0,726.3 L1138.0,726.2 L1140.0,726.0 L1142.0,725.9 L1144.0,725.8 L1146.0,725.7 L1148.0,725.6 L1150.0,725.5 L1151.9,725.4 L1153.8,725.3 L1155.8,725.2 L1157.8,725.1 L1159.7,725.0 L1161.7,724.9 L1163.6,724.8 L1165.5,724.7 L1167.5,724.6 L1169.5,724.5 L1171.4,724.4 L1173.3,724.3 L1175.3,724.2 L1177.2,724.1 L1179.2,724.0 L1181.2,723.9 L1183.1,723.7 L1185.0,723.6 L1187.0,723.5 L1189.0,723.4 L1190.9,723.2 L1192.9,723.1 L1194.9,723.0 L1196.8,722.8 L1198.8,722.7 L1200.8,722.5 L1202.7,722.4 L1204.7,722.2 L1206.6,722.1 L1208.6,721.9 L1210.6,721.8 L1212.5,721.6 L1214.5,721.4 L1216.5,721.3 L1218.4,721.1 L1220.4,721.0 L1222.4,720.8 L1224.3,720.6 L1226.3,720.5 L1228.2,720.3 L1230.2,720.2 L1232.2,720.1 L1234.1,719.9 L1236.1,719.8 L1238.1,719.6 L1240.0,719.5 L1242.0,719.4 L1244.0,719.3 L1246.0,719.2 L1247.9,719.1 L1249.9,719.0 L1251.9,718.9 L1253.9,718.8 L1255.9,718.7 L1257.8,718.6 L1259.8,718.5 L1261.8,718.4 L1263.8,718.3 L1265.8,718.2 L1267.7,718.2 L1269.7,718.1 L1271.7,718.0 L1273.7,718.0 L1275.7,717.9 L1277.6,717.8 L1279.6,717.8 L1281.6,717.7 L1283.6,717.7 L1285.6,717.6 L1287.5,717.5 L1289.5,717.5 L1291.5,717.4 L1293.5,717.4 L1295.5,717.3 L1297.4,717.3 L1299.4,717.2 L1301.4,717.2 L1303.4,717.1 L1305.4,717.1 L1307.3,717.0 L1309.3,717.0 L1311.3,716.9 L1313.3,716.9 L1315.3,716.8 L1317.2,716.8 L1319.2,716.7 L1321.2,716.7 L1323.2,716.6 L1325.2,716.5 L1327.1,716.5 L1329.1,716.4 L1331.1,716.4 L1333.1,716.3 L1335.1,716.2 L1337.0,716.1 L1339.0,716.1 L1341.0,716.0 L1343.0,715.9 L1345.0,715.8 L1347.0,715.8 L1349.0,715.7 L1351.0,715.6 L1353.0,715.5 L1355.0,715.4 L1357.0,715.3 L1359.0,715.3 L1361.0,715.2 L1363.0,715.1 L1365.0,715.0 L1367.0,714.9 L1369.0,714.8 L1371.0,714.7 L1373.0,714.7 L1375.0,714.6 L1377.0,714.5 L1379.0,714.4 L1381.0,714.3 L1383.0,714.2 L1385.0,714.1 L1387.0,714.1 L1389.0,714.0 L1391.0,713.9 L1393.0,713.8 L1395.0,713.7 L1397.0,713.7 L1399.0,713.6 L1401.0,713.5 L1403.0,713.5 L1405.0,713.4 L1407.0,713.3 L1409.0,713.3 L1411.0,713.2 L1413.0,713.1 L1415.0,713.1 L1417.0,713.0 L1419.0,712.9 L1421.0,712.9 L1423.0,712.8 L1425.0,712.7 L1427.0,712.7 L1429.0,712.6 L1431.0,712.6 L1433.0,712.5 L1435.0,712.5 L1437.0,712.4 L1439.0,712.3 L1441.0,712.3 L1443.0,712.2 L1445.0,712.2 L1447.0,712.1 L1449.0,712.0 L1451.0,712.0 L1453.0,711.9 L1455.0,711.9 L1457.0,711.8 L1459.0,711.7 L1460.9,711.7 L1462.9,711.6 L1464.9,711.6 L1466.8,711.5 L1468.8,711.4 L1470.8,711.4 L1472.7,711.3 L1474.7,711.3 L1476.7,711.2 L1478.6,711.1 L1480.6,711.1 L1482.6,711.0 L1484.5,711.0 L1486.5,710.9 L1488.4,710.8 L1490.4,710.8 L1492.4,710.7 L1494.3,710.7 L1496.3,710.6 L1498.3,710.6 L1500.2,710.5 L1502.2,710.4 L1504.2,710.4 L1506.1,710.3 L1508.1,710.3 L1510.1,710.2 L1512.0,710.2 L1514.0,710.1 L1516.0,710.0 L1518.0,710.0 L1520.0,709.9 L1522.0,709.9 L1524.0,709.8 L1526.0,709.7 L1528.0,709.7 L1530.0,709.6 L1532.0,709.6 L1534.0,709.5 L1536.0,709.4 L1538.0,709.4 L1540.0,709.3 L1542.0,709.2 L1544.0,709.2 L1546.0,709.1 L1548.0,709.1 L1550.0,709.0 L1552.0,708.9 L1554.0,708.9 L1556.0,708.8 L1558.0,708.8 L1560.0,708.7 L1562.0,708.7 L1564.0,708.6 L1566.0,708.6 L1568.0,708.5 L1570.0,708.5 L1572.0,708.4 L1574.0,708.4 L1576.0,708.4 L1578.0,708.3 L1580.0,708.3 L1582.0,708.3 L1583.9,708.2 L1585.9,708.2 L1587.9,708.2 L1589.8,708.2 L1591.8,708.2 L1593.8,708.1 L1595.8,708.1 L1597.7,708.1 L1599.7,708.1 L1601.7,708.1 L1603.6,708.1 L1605.6,708.0 L1607.6,708.0 L1609.5,708.0 L1611.5,708.0 L1613.5,708.0 L1615.5,708.0 L1617.4,708.0 L1619.4,708.0 L1621.4,708.0 L1623.3,708.0 L1625.3,708.0 L1627.3,708.0 L1629.2,708.0 L1631.2,708.0 L1633.2,708.0 L1635.2,708.0 L1637.1,708.1 L1639.1,708.1 L1641.1,708.1 L1643.0,708.1 L1645.0,708.1 L1647.0,708.1 L1648.9,708.1 L1650.9,708.1 L1652.9,708.2 L1654.8,708.2 L1656.8,708.2 L1658.8,708.2 L1660.7,708.3 L1662.7,708.3 L1664.7,708.3 L1666.6,708.3 L1668.6,708.4 L1670.6,708.4 L1672.5,708.4 L1674.5,708.4 L1676.5,708.5 L1678.5,708.5 L1680.4,708.5 L1682.4,708.6 L1684.4,708.6 L1686.3,708.7 L1688.3,708.7 L1690.3,708.7 L1692.2,708.8 L1694.2,708.8 L1696.2,708.9 L1698.1,708.9 L1700.1,709.0 L1702.1,709.0 L1704.0,709.1 L1706.0,709.1 L1708.0,709.2 L1710.0,709.2 L1712.0,709.3 L1714.0,709.3 L1716.0,709.4 L1718.0,709.4 L1720.0,709.5 L1722.0,709.5 L1724.0,709.6 L1726.0,709.6 L1728.0,709.7 L1730.0,709.7 L1732.0,709.8 L1734.0,709.9 L1736.0,709.9 L1738.0,710.0 L1740.0,710.1 L1742.0,710.1 L1744.0,710.2 L1746.0,710.3 L1748.0,710.3 L1750.0,710.4 L1752.0,710.5 L1754.0,710.6 L1756.0,710.7 L1758.0,710.7 L1760.0,710.8 L1762.0,710.9 L1764.0,711.0 L1766.0,711.1 L1768.0,711.2 L1770.0,711.3 L1772.0,711.4 L1774.0,711.5 L1776.0,711.6 L1778.0,711.7 L1780.0,711.9 L1782.0,712.0 L1784.0,712.1 L1786.0,712.2 L1788.0,712.4 L1790.0,712.5 L1792.0,712.6 L1794.0,712.8 L1796.0,712.9 L1798.0,713.0 L1800.0,713.2 L1802.0,713.3 L1804.0,713.4 L1806.0,713.6 L1808.0,713.7 L1810.0,713.8 L1812.0,714.0 L1814.0,714.1 L1816.0,714.2 L1818.0,714.4 L1820.0,714.5 L1822.0,714.6 L1824.0,714.7 L1825.9,714.8 L1827.9,714.9 L1829.9,715.1 L1831.8,715.2 L1833.8,715.3 L1835.8,715.4 L1837.7,715.5 L1839.7,715.6 L1841.7,715.7 L1843.6,715.8 L1845.6,715.9 L1847.6,716.0 L1849.5,716.1 L1851.5,716.3 L1853.5,716.4 L1855.4,716.5 L1857.4,716.6 L1859.4,716.7 L1861.3,716.8 L1863.3,716.9 L1865.3,717.0 L1867.2,717.1 L1869.2,717.2 L1871.2,717.3 L1873.1,717.4 L1875.1,717.6 L1877.1,717.7 L1879.0,717.8 L1881.0,717.9 L1883.0,718.0 L1884.9,718.1 L1886.9,718.3 L1888.9,718.4 L1890.9,718.5 L1892.8,718.6 L1894.8,718.7 L1896.8,718.9 L1898.8,719.0 L1900.7,719.1 L1902.7,719.2 L1904.7,719.3 L1906.7,719.5 L1908.6,719.6 L1910.6,719.7 L1912.6,719.8 L1914.6,720.0 L1916.5,720.1 L1918.5,720.2"/>
<path stroke="#7E2F8E" stroke-dasharray="38.2 10.8 19.2 9.4" d="M282.0,719.5 L283.5,710.0 L284.8,705.4 L286.0,702.5 L288.0,699.7 L290.0,698.3 L291.7,697.3 L293.4,696.9 L295.1,696.7 L296.8,696.4 L298.7,696.1 L300.7,695.8 L302.6,695.7 L304.5,695.7 L306.5,695.7 L308.4,695.8 L310.3,695.9 L312.3,696.1 L314.2,696.3 L316.1,696.4 L318.1,696.5 L320.0,696.6 L321.9,696.7 L323.9,696.7 L325.8,696.8 L327.8,696.9 L329.7,696.9 L331.7,697.0 L333.6,697.1 L335.6,697.2 L337.5,697.3 L339.5,697.5 L341.4,697.6 L343.3,697.7 L345.3,697.8 L347.2,697.9 L349.2,698.0 L351.1,698.2 L353.1,698.3 L355.0,698.4 L357.0,698.5 L358.9,698.6 L360.9,698.7 L362.8,698.8 L364.8,698.9 L366.7,699.0 L368.7,699.1 L370.6,699.2 L372.6,699.2 L374.5,699.3 L376.5,699.4 L378.4,699.5 L380.4,699.6 L382.3,699.7 L384.3,699.7 L386.2,699.8 L388.2,699.9 L390.1,700.0 L392.1,700.1 L394.0,700.1 L396.0,700.2 L397.9,700.3 L399.9,700.4 L401.8,700.5 L403.8,700.5 L405.7,700.6 L407.7,700.7 L409.6,700.8 L411.6,700.8 L413.5,700.9 L415.5,701.0 L417.4,701.1 L419.4,701.2 L421.3,701.3 L423.3,701.3 L425.2,701.4 L427.2,701.5 L429.1,701.6 L431.1,701.7 L433.0,701.8 L435.0,701.9 L437.0,702.0 L438.9,702.1 L440.9,702.2 L442.8,702.3 L444.8,702.4 L446.7,702.5 L448.7,702.6 L450.6,702.7 L452.6,702.8 L454.5,702.9 L456.5,703.0 L458.4,703.1 L460.4,703.2 L462.3,703.3 L464.3,703.4 L466.2,703.5 L468.2,703.6 L470.1,703.7 L472.1,703.8 L474.0,703.9 L476.0,704.0 L477.9,704.1 L479.9,704.3 L481.8,704.4 L483.8,704.5 L485.7,704.6 L487.7,704.7 L489.6,704.8 L491.6,705.0 L493.5,705.1 L495.5,705.2 L497.4,705.3 L499.4,705.5 L501.3,705.6 L503.3,705.7 L505.2,705.9 L507.2,706.0 L509.2,706.1 L511.1,706.3 L513.1,706.4 L515.0,706.6 L517.0,706.7 L518.9,706.9 L520.9,707.0 L522.8,707.2 L524.8,707.3 L526.7,707.5 L528.7,707.6 L530.6,707.8 L532.6,707.9 L534.5,708.1 L536.5,708.2 L538.4,708.4 L540.4,708.6 L542.3,708.7 L544.3,708.9 L546.2,709.1 L548.2,709.2 L550.1,709.4 L552.1,709.6 L554.0,709.8 L556.0,709.9 L557.9,710.1 L559.9,710.3 L561.8,710.5 L563.8,710.7 L565.7,710.8 L567.7,711.0 L569.6,711.2 L571.6,711.4 L573.5,711.6 L575.5,711.8 L577.4,712.0 L579.4,712.2 L581.4,712.4 L583.4,712.6 L585.4,712.8 L587.4,713.0 L589.4,713.3 L591.4,713.5 L593.4,713.7 L595.4,713.9 L597.4,714.1 L599.4,714.4 L601.4,714.6 L603.4,714.8 L605.4,715.1 L607.4,715.3 L609.4,715.5 L611.3,715.8 L613.3,716.0 L615.3,716.2 L617.3,716.5 L619.3,716.7 L621.3,717.0 L623.3,717.2 L625.3,717.4 L627.3,717.7 L629.3,717.9 L631.3,718.2 L633.3,718.4 L635.3,718.7 L637.3,718.9 L639.3,719.2 L641.3,719.4 L643.2,719.6 L645.2,719.9 L647.1,720.1 L649.1,720.4 L651.0,720.6 L653.0,720.9 L654.9,721.1 L656.9,721.4 L658.8,721.6 L660.8,721.9 L662.7,722.1 L664.7,722.4 L666.6,722.6 L668.6,722.9 L670.5,723.1 L672.5,723.4 L674.4,723.6 L676.4,723.9 L678.3,724.1 L680.3,724.4 L682.2,724.6 L684.2,724.9 L686.1,725.1 L688.1,725.4 L690.0,725.6 L692.0,725.8 L694.0,726.1 L696.0,726.3 L698.0,726.6 L700.0,726.8 L702.0,727.1 L704.0,727.3 L706.0,727.6 L708.0,727.8 L710.0,728.1 L712.0,728.3 L714.0,728.6 L716.0,728.8 L717.9,729.1 L719.9,729.3 L721.9,729.6 L723.9,729.8 L725.9,730.0 L727.9,730.3 L729.9,730.5 L731.9,730.7 L733.9,730.9 L735.9,731.2 L737.9,731.4 L739.9,731.6 L741.9,731.8 L743.9,732.0 L745.9,732.2 L747.9,732.4 L749.9,732.6 L751.9,732.8 L753.9,733.0 L755.9,733.2 L757.9,733.4 L759.9,733.5 L761.9,733.7 L763.9,733.9 L765.9,734.1 L767.9,734.2 L769.9,734.4 L771.9,734.6 L773.8,734.7 L775.8,734.9 L777.8,735.1 L779.8,735.2 L781.8,735.4 L783.8,735.5 L785.8,735.7 L787.8,735.8 L789.8,736.0 L791.8,736.1 L793.8,736.3 L795.8,736.4 L797.8,736.6 L799.8,736.7 L801.8,736.9 L803.8,737.0 L805.8,737.1 L807.8,737.3 L809.8,737.4 L811.8,737.5 L813.8,737.7 L815.8,737.8 L817.8,737.9 L819.7,738.1 L821.7,738.2 L823.7,738.3 L825.7,738.4 L827.7,738.6 L829.7,738.7 L831.7,738.8 L833.7,738.9 L835.7,739.0 L837.7,739.1 L839.7,739.3 L841.7,739.4 L843.7,739.5 L845.7,739.6 L847.7,739.7 L849.7,739.8 L851.6,739.9 L853.6,740.0 L855.6,740.1 L857.6,740.2 L859.6,740.2 L861.6,740.3 L863.6,740.4 L865.6,740.5 L867.6,740.6 L869.6,740.7 L871.6,740.7 L873.6,740.8 L875.6,740.9 L877.6,741.0 L879.6,741.0 L881.6,741.1 L883.6,741.2 L885.6,741.2 L887.6,741.3 L889.6,741.3 L891.6,741.4 L893.6,741.4 L895.6,741.5 L897.5,741.5 L899.5,741.6 L901.5,741.6 L903.5,741.7 L905.5,741.7 L907.5,741.8 L909.5,741.8 L911.5,741.8 L913.5,741.9 L915.5,741.9 L917.5,742.0 L919.5,742.0 L921.5,742.0 L923.5,742.0 L925.5,742.1 L927.5,742.1 L929.5,742.1 L931.5,742.1 L933.5,742.2 L935.5,742.2 L937.5,742.2 L939.5,742.2 L941.5,742.2 L943.5,742.3 L945.5,742.3 L947.5,742.3 L949.5,742.3 L951.5,742.3 L953.5,742.3 L955.5,742.3 L957.5,742.3 L959.4,742.3 L961.4,742.3 L963.4,742.3 L965.4,742.3 L967.4,742.3 L969.4,742.3 L971.4,742.3 L973.4,742.3 L975.4,742.2 L977.4,742.2 L979.4,742.2 L981.4,742.2 L983.4,742.2 L985.4,742.1 L987.4,742.1 L989.4,742.1 L991.4,742.1 L993.4,742.0 L995.4,742.0 L997.4,742.0 L999.4,742.0 L1001.4,741.9 L1003.4,741.9 L1005.4,741.8 L1007.4,741.8 L1009.4,741.8 L1011.4,741.7 L1013.4,741.7 L1015.4,741.6 L1017.4,741.6 L1019.4,741.5 L1021.3,741.5 L1023.3,741.4 L1025.3,741.4 L1027.3,741.3 L1029.3,741.3 L1031.3,741.2 L1033.3,741.1 L1035.3,741.1 L1037.3,741.0 L1039.3,740.9 L1041.3,740.9 L1043.3,740.8 L1045.3,740.7 L1047.3,740.7 L1049.3,740.6 L1051.3,740.5 L1053.2,740.4 L1055.2,740.3 L1057.1,740.3 L1059.1,740.2 L1061.0,740.1 L1063.0,740.0 L1064.9,739.9 L1066.9,739.8 L1068.8,739.7 L1070.8,739.6 L1072.7,739.5 L1074.7,739.4 L1076.6,739.4 L1078.6,739.2 L1080.5,739.1 L1082.5,739.0 L1084.4,738.9 L1086.4,738.8 L1088.3,738.7 L1090.3,738.6 L1092.2,738.5 L1094.2,738.4 L1096.1,738.2 L1098.1,738.1 L1100.0,738.0 L1102.0,737.9 L1104.0,737.7 L1106.0,737.6 L1108.0,737.5 L1110.0,737.3 L1112.0,737.2 L1114.0,737.0 L1116.0,736.9 L1118.0,736.7 L1120.0,736.6 L1122.0,736.4 L1124.0,736.3 L1126.0,736.1 L1127.9,735.9 L1129.9,735.8 L1131.9,735.6 L1133.9,735.5 L1135.9,735.3 L1137.9,735.1 L1139.9,734.9 L1141.9,734.8 L1143.9,734.6 L1145.9,734.4 L1147.9,734.3 L1149.9,734.1 L1151.9,733.9 L1153.9,733.7 L1155.9,733.5 L1157.9,733.4 L1159.9,733.2 L1161.9,733.0 L1163.9,732.8 L1165.9,732.6 L1167.9,732.4 L1169.9,732.2 L1171.9,732.0 L1173.9,731.8 L1175.9,731.6 L1177.9,731.4 L1179.9,731.2 L1181.9,731.0 L1183.8,730.8 L1185.8,730.6 L1187.8,730.4 L1189.8,730.2 L1191.8,730.0 L1193.8,729.8 L1195.8,729.5 L1197.8,729.3 L1199.8,729.1 L1201.8,728.9 L1203.8,728.7 L1205.8,728.5 L1207.8,728.3 L1209.8,728.1 L1211.8,727.9 L1213.8,727.7 L1215.8,727.5 L1217.8,727.3 L1219.8,727.1 L1221.8,726.9 L1223.8,726.7 L1225.8,726.5 L1227.8,726.3 L1229.7,726.1 L1231.7,726.0 L1233.7,725.8 L1235.7,725.6 L1237.7,725.4 L1239.7,725.2 L1241.7,725.0 L1243.7,724.8 L1245.7,724.6 L1247.7,724.4 L1249.7,724.2 L1251.7,724.0 L1253.7,723.8 L1255.7,723.6 L1257.7,723.4 L1259.7,723.2 L1261.6,723.0 L1263.6,722.8 L1265.6,722.6 L1267.6,722.4 L1269.6,722.2 L1271.6,721.9 L1273.6,721.7 L1275.6,721.5 L1277.6,721.3 L1279.6,721.0 L1281.6,720.8 L1283.6,720.6 L1285.6,720.3 L1287.6,720.1 L1289.6,719.8 L1291.6,719.5 L1293.6,719.3 L1295.6,719.0 L1297.6,718.8 L1299.6,718.5 L1301.6,718.2 L1303.6,718.0 L1305.6,717.7 L1307.5,717.4 L1309.5,717.2 L1311.5,716.9 L1313.5,716.6 L1315.5,716.4 L1317.5,716.1 L1319.5,715.8 L1321.5,715.6 L1323.5,715.3 L1325.5,715.1 L1327.5,714.8 L1329.5,714.6 L1331.5,714.3 L1333.5,714.1 L1335.5,713.8 L1337.5,713.6 L1339.5,713.4 L1341.5,713.1 L1343.5,712.9 L1345.5,712.7 L1347.5,712.4 L1349.5,712.2 L1351.5,712.0 L1353.5,711.8 L1355.5,711.5 L1357.5,711.3 L1359.5,711.1 L1361.5,710.9 L1363.5,710.7 L1365.5,710.4 L1367.5,710.2 L1369.4,710.0 L1371.4,709.8 L1373.4,709.6 L1375.4,709.4 L1377.4,709.2 L1379.4,709.0 L1381.4,708.8 L1383.4,708.6 L1385.4,708.4 L1387.4,708.2 L1389.4,708.0 L1391.4,707.8 L1393.4,707.6 L1395.4,707.4 L1397.4,707.2 L1399.4,707.0 L1401.4,706.8 L1403.4,706.6 L1405.4,706.4 L1407.4,706.3 L1409.4,706.1 L1411.4,705.9 L1413.4,705.7 L1415.4,705.6 L1417.4,705.4 L1419.4,705.2 L1421.4,705.0 L1423.4,704.9 L1425.4,704.7 L1427.4,704.5 L1429.4,704.4 L1431.3,704.2 L1433.3,704.1 L1435.3,703.9 L1437.3,703.7 L1439.3,703.6 L1441.3,703.4 L1443.3,703.3 L1445.3,703.1 L1447.3,703.0 L1449.3,702.8 L1451.3,702.6 L1453.3,702.5 L1455.3,702.3 L1457.3,702.2 L1459.3,702.0 L1461.3,701.9 L1463.2,701.8 L1465.2,701.6 L1467.1,701.5 L1469.1,701.3 L1471.0,701.2 L1473.0,701.0 L1474.9,700.9 L1476.9,700.7 L1478.8,700.6 L1480.8,700.5 L1482.7,700.3 L1484.7,700.2 L1486.6,700.1 L1488.6,699.9 L1490.5,699.8 L1492.5,699.7 L1494.4,699.5 L1496.4,699.4 L1498.3,699.3 L1500.3,699.2 L1502.2,699.0 L1504.2,698.9 L1506.1,698.8 L1508.1,698.7 L1510.0,698.6 L1512.0,698.5 L1514.0,698.4 L1516.0,698.3 L1518.0,698.2 L1520.0,698.1 L1522.0,698.0 L1524.0,697.9 L1526.0,697.9 L1528.0,697.8 L1530.0,697.7 L1532.0,697.6 L1534.0,697.6 L1536.0,697.5 L1537.9,697.4 L1539.9,697.4 L1541.9,697.3 L1543.9,697.2 L1545.9,697.2 L1547.9,697.1 L1549.9,697.0 L1551.9,697.0 L1553.9,696.9 L1555.9,696.9 L1557.9,696.8 L1559.9,696.8 L1561.9,696.7 L1563.9,696.6 L1565.9,696.6 L1567.9,696.5 L1569.9,696.5 L1571.9,696.4 L1573.9,696.4 L1575.9,696.3 L1577.9,696.3 L1579.9,696.2 L1581.9,696.2 L1583.9,696.2 L1585.9,696.1 L1587.9,696.1 L1589.9,696.0 L1591.9,696.0 L1593.8,696.0 L1595.8,695.9 L1597.8,695.9 L1599.8,695.9 L1601.8,695.8 L1603.8,695.8 L1605.8,695.8 L1607.8,695.7 L1609.8,695.7 L1611.8,695.7 L1613.8,695.7 L1615.8,695.7 L1617.8,695.6 L1619.8,695.6 L1621.8,695.6 L1623.8,695.6 L1625.8,695.6 L1627.8,695.6 L1629.8,695.6 L1631.8,695.6 L1633.8,695.6 L1635.8,695.6 L1637.8,695.6 L1639.7,695.6 L1641.7,695.6 L1643.7,695.6 L1645.7,695.6 L1647.7,695.6 L1649.7,695.6 L1651.7,695.6 L1653.7,695.6 L1655.7,695.6 L1657.7,695.6 L1659.7,695.7 L1661.7,695.7 L1663.7,695.7 L1665.7,695.7 L1667.7,695.7 L1669.7,695.8 L1671.6,695.8 L1673.6,695.8 L1675.6,695.9 L1677.6,695.9 L1679.6,696.0 L1681.6,696.0 L1683.6,696.0 L1685.6,696.1 L1687.6,696.2 L1689.6,696.2 L1691.6,696.3 L1693.6,696.3 L1695.6,696.4 L1697.6,696.4 L1699.6,696.5 L1701.6,696.6 L1703.6,696.6 L1705.6,696.7 L1707.6,696.8 L1709.6,696.8 L1711.6,696.9 L1713.6,697.0 L1715.6,697.1 L1717.5,697.2 L1719.5,697.2 L1721.5,697.3 L1723.5,697.4 L1725.5,697.5 L1727.5,697.6 L1729.5,697.7 L1731.5,697.8 L1733.5,697.9 L1735.5,698.0 L1737.5,698.2 L1739.5,698.3 L1741.5,698.4 L1743.5,698.5 L1745.5,698.7 L1747.5,698.8 L1749.5,698.9 L1751.5,699.1 L1753.5,699.2 L1755.5,699.4 L1757.5,699.6 L1759.5,699.7 L1761.5,699.9 L1763.5,700.1 L1765.5,700.2 L1767.5,700.4 L1769.5,700.6 L1771.5,700.8 L1773.5,701.0 L1775.5,701.2 L1777.5,701.4 L1779.4,701.6 L1781.4,701.8 L1783.4,702.0 L1785.4,702.2 L1787.4,702.4 L1789.4,702.6 L1791.4,702.8 L1793.4,703.0 L1795.4,703.2 L1797.4,703.4 L1799.4,703.6 L1801.4,703.8 L1803.4,704.0 L1805.4,704.2 L1807.4,704.4 L1809.4,704.6 L1811.4,704.8 L1813.4,705.0 L1815.4,705.2 L1817.4,705.4 L1819.4,705.6 L1821.4,705.8 L1823.4,706.1 L1825.4,706.3 L1827.4,706.5 L1829.4,706.7 L1831.4,706.9 L1833.4,707.1 L1835.4,707.4 L1837.4,707.6 L1839.4,707.8 L1841.3,708.0 L1843.3,708.2 L1845.3,708.5 L1847.3,708.7 L1849.3,708.9 L1851.3,709.1 L1853.3,709.3 L1855.3,709.5 L1857.3,709.8 L1859.3,710.0 L1861.3,710.2 L1863.3,710.4 L1865.3,710.6 L1867.3,710.8 L1869.3,711.0 L1871.3,711.2 L1873.3,711.4 L1875.2,711.6 L1877.2,711.8 L1879.2,712.0 L1881.1,712.2 L1883.1,712.3 L1885.1,712.5 L1887.0,712.7 L1889.0,712.9 L1891.0,713.1 L1892.9,713.3 L1894.9,713.4 L1896.9,713.6 L1898.8,713.8 L1900.8,714.0 L1902.8,714.2 L1904.7,714.3 L1906.7,714.5 L1908.7,714.7 L1910.6,714.9 L1912.6,715.1 L1914.6,715.2 L1916.5,715.4 L1918.5,715.6"/>
</g>
<line x1="282.5" y1="720" x2="1918.5" y2="720" stroke="#3d3d3d" stroke-width="2.4" stroke-dasharray="12 7.3" stroke-dashoffset="0"/>
<rect x="1534.2" y="1000.8" width="345.3" height="308.0" fill="#fff"/>
<g fill="none" stroke-linecap="butt">
<line x1="1532.7" y1="1309.2" x2="1881.5" y2="1309.2" stroke="#969696" stroke-width="4.6"/>
<line x1="1879.5" y1="999.3" x2="1879.5" y2="1311.4" stroke="#7a7a7a" stroke-width="4.0"/>
<line x1="1532.7" y1="1000.8" x2="1881.5" y2="1000.8" stroke="#4a4a4a" stroke-width="3"/>
<line x1="1534.2" y1="999.3" x2="1534.2" y2="1311.4" stroke="#4a4a4a" stroke-width="3"/>
</g>
<g fill="none" stroke-width="10.0">
<line x1="1548.7" y1="1044" x2="1699.4" y2="1044" stroke="#0072BD"/>
<line x1="1548.7" y1="1117.8" x2="1587.1" y2="1117.8" stroke="#D95319"/>
<line x1="1625.6" y1="1117.8" x2="1665.7" y2="1117.8" stroke="#D95319"/>
<line x1="1695.8" y1="1117.8" x2="1699.4" y2="1117.8" stroke="#D95319"/>
<line x1="1548.7" y1="1193.2" x2="1694" y2="1193.2" stroke="#EDB120" stroke-dasharray="11 8.15"/>
<line x1="1548.7" y1="1266.3" x2="1587.1" y2="1266.3" stroke="#7E2F8E"/>
<line x1="1597.9" y1="1266.3" x2="1617.0" y2="1266.3" stroke="#7E2F8E"/>
<line x1="1625.6" y1="1266.3" x2="1665.0" y2="1266.3" stroke="#7E2F8E"/>
<line x1="1674.0" y1="1266.3" x2="1693.4" y2="1266.3" stroke="#7E2F8E"/>
<line x1="1695.8" y1="1266.3" x2="1699.4" y2="1266.3" stroke="#7E2F8E"/>
</g>
<text transform="translate(0.0,1059.8) scale(1.050,1)" fill="#1c1c1c" stroke="#fff" stroke-width="1.30" font-family="&quot;Liberation Serif&quot;,&quot;Times New Roman&quot;,serif"><tspan font-size="68" font-style="italic" letter-spacing="1.90" x="1632.35" dy="0">SMC</tspan></text>
<text transform="translate(0.0,1132.6)" fill="#1c1c1c" stroke="#fff" stroke-width="1.30" font-family="&quot;Liberation Serif&quot;,&quot;Times New Roman&quot;,serif"><tspan font-size="65" font-style="normal" textLength="37.79" lengthAdjust="spacingAndGlyphs" stroke-width="0.50" x="1710.52" dy="0">Γ</tspan></text>
<text transform="translate(0.0,1207.6)" fill="#1c1c1c" stroke="#fff" stroke-width="1.30" font-family="&quot;Liberation Serif&quot;,&quot;Times New Roman&quot;,serif"><tspan font-size="64" font-style="italic" textLength="36.93" lengthAdjust="spacingAndGlyphs" x="1710.20" dy="0">α</tspan></text>
<text transform="translate(0.0,1281.2)" fill="#1c1c1c" stroke="#fff" stroke-width="1.30" font-family="&quot;Liberation Serif&quot;,&quot;Times New Roman&quot;,serif"><tspan font-size="64" font-style="italic" textLength="36.93" lengthAdjust="spacingAndGlyphs" x="1710.20" dy="0">α</tspan><tspan font-size="65" font-style="normal" textLength="38.68" lengthAdjust="spacingAndGlyphs" stroke-width="0.50" x="1749.27" dy="0">Γ</tspan></text>
<text transform="translate(0.0,1525.0) scale(1.170,1)" fill="#1c1c1c" stroke="#fff" stroke-width="1.30" font-family="&quot;Liberation Serif&quot;,&quot;Times New Roman&quot;,serif"><tspan font-size="78" font-style="italic" letter-spacing="2.40" x="833.32" dy="0">time</tspan><tspan font-size="98" font-style="normal" textLength="12.78" lengthAdjust="spacingAndGlyphs" stroke-width="0.00" x="981.00" dy="6.0">[</tspan><tspan font-size="78" font-style="italic" textLength="27.44" lengthAdjust="spacingAndGlyphs" x="998.46" dy="-6.0">s</tspan><tspan font-size="98" font-style="normal" textLength="12.78" lengthAdjust="spacingAndGlyphs" stroke-width="0.00" x="1027.50" dy="6.0">]</tspan></text>
<text transform="translate(127.6,834.0) rotate(-90) scale(1.050,1)" fill="#1c1c1c" stroke="#fff" stroke-width="1.30" font-family="&quot;Liberation Serif&quot;,&quot;Times New Roman&quot;,serif"><tspan font-size="78" font-style="italic" x="-1.92" dy="0">e</tspan><tspan font-size="56" font-style="normal" stroke-width="0.80" x="31.70" dy="11.0">5</tspan><tspan font-size="98" font-style="normal" textLength="14.96" lengthAdjust="spacingAndGlyphs" stroke-width="0.00" x="67.71" dy="-5.0">[</tspan><tspan font-size="78" font-style="italic" letter-spacing="0.95" x="84.69" dy="-6.0">deg</tspan><tspan font-size="98" font-style="normal" textLength="13.67" lengthAdjust="spacingAndGlyphs" stroke-width="0.00" x="199.75" dy="6.0">]</tspan></text>
</g>
</svg></body></html>
